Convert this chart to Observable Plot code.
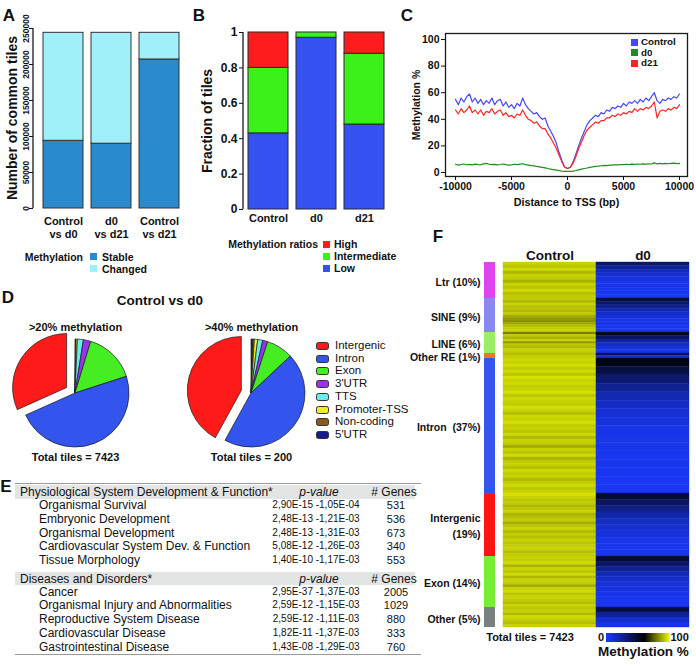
<!DOCTYPE html>
<html>
<head>
<meta charset="utf-8">
<script src="https://cdn.jsdelivr.net/npm/d3@7"></script>
<script src="https://cdn.jsdelivr.net/npm/@observablehq/plot@0.6"></script>
<style>
  html, body { margin: 0; padding: 0; background: #ffffff; }
  #fig { position: relative; width: 696px; height: 667px; overflow: hidden; background: #fff;
         font-family: "Liberation Sans", Arial, Helvetica, sans-serif; color: #111; }
  #fig svg { overflow: visible; }
</style>
</head>
<body>
<div id="fig"></div>
<script>
// ================= DATA =================
// --- Panel A
const aComparisons = ["Control\nvs d0", "d0\nvs d21", "Control\nvs d21"];
const aStatus = ["Stable", "Changed"];
const aStable = [94000, 90000, 207000];
const aChanged = [150000, 154000, 37000];
const aTicks = [0, 50000, 100000, 150000, 200000, 250000];
const aColors = ["#2b89cd", "#a0f0fa"];

// --- Panel B
const bSamples = ["Control", "d0", "d21"];
const bRatios = ["Low", "Intermediate", "High"];
const bLow = [0.43, 0.97, 0.48];
const bIntermediate = [0.37, 0.03, 0.40];
const bHigh = [0.20, 0.00, 0.12];
const bTicks = [0, 0.2, 0.4, 0.6, 0.8, 1];
const bColors = ["#3452f2", "#3cf01a", "#ff1c1c"];
const bLegendOrder = ["High", "Intermediate", "Low"];

// --- Panel C
const cSeries = ["Control", "d0", "d21"];
const cColors = ["#4646ff", "#1e8c1e", "#ff2424"];
const cXTicks = [-10000, -5000, 0, 5000, 10000];
const cYTicks = [0, 20, 40, 60, 80, 100];
const cDistance = [-10000,-9750,-9500,-9250,-9000,-8750,-8500,-8250,-8000,-7750,-7500,-7250,-7000,-6750,-6500,-6250,-6000,-5750,-5500,-5250,-5000,-4750,-4500,-4250,-4000,-3750,-3500,-3250,-3000,-2750,-2500,-2250,-2000,-1750,-1500,-1250,-1000,-750,-500,-250,0,250,500,750,1000,1250,1500,1750,2000,2250,2500,2750,3000,3250,3500,3750,4000,4250,4500,4750,5000,5250,5500,5750,6000,6250,6500,6750,7000,7250,7500,7750,8000,8250,8500,8750,9000,9250,9500,9750,10000];
const cControl = [55,51,56,53,57,59,53,56,52,55, 51,54,52,56,51,54,55,50,53,49, 51,48,52,50,56,51,48,46,44,45, 42,40,41,35,31,27,22,15,9,4, 3,4,8,14,20,26,31,36,39,41, 43,42,45,44,47,46,49,48,50,49, 52,50,53,52,54,52,55,53,56,54, 57,60,54,52,55,54,56,55,57,56, 59];
const cD0 = [6.2,5.6,6.0,6.4,5.8,6.1,5.7,6.3,6.0,5.8, 6.5,6.9,6.2,5.9,6.1,5.7,6.0,6.4,5.9,5.6, 5.8,6.2,5.9,6.3,6.6,5.9,5.6,5.2,5.0,4.6, 4.3,3.9,3.5,3.0,2.6,2.1,1.8,1.4,1.1,0.9, 0.8,0.9,1.1,1.5,2.0,2.5,3.0,3.4,3.9,4.2, 4.6,4.8,5.1,5.3,5.2,5.6,5.5,5.8,5.7,6.0, 5.9,6.2,6.0,6.3,6.1,6.4,6.2,6.5,6.3,6.6, 6.4,7.2,6.5,6.8,6.5,6.9,6.6,6.8,7.0,6.7, 6.9];
const cD21 = [47,44,48,45,47,50,45,47,44,47, 43,46,45,48,44,46,47,43,45,42, 43,41,44,43,47,43,40,39,37,38, 35,33,33,29,26,22,18,13,8,4, 3,4,7,12,18,23,28,32,34,36, 38,37,39,39,41,41,43,42,44,43, 45,44,46,45,48,46,48,47,49,48, 50,53,41,46,47,46,48,47,49,48, 51];

// --- Panel D
const dRegions = ["Intergenic", "Intron", "Exon", "3'UTR", "TTS", "Promoter-TSS", "Non-coding", "5'UTR"];
const dColors = ["#ff1a1a", "#3355ee", "#44ee22", "#9933ee", "#66eeee", "#eeee22", "#8a5a1a", "#1a1a8a"];
const dPies = [">20% methylation", ">40% methylation"];
const dTotals = [7423, 200];
const dTiles20 = [2353, 3585, 1136, 163, 134, 30, 11, 11];
const dTiles40 = [84, 90, 16, 3, 3, 2, 1, 1];

// --- Panel E
const eSection1 = "Physiological System Development & Function*";
const eFunctions = ["Organismal Survival", "Embryonic Development", "Organismal Development", "Cardiovascular System Dev. & Function", "Tissue Morphology"];
const ePvalues1 = ["2,90E-15 -1,05E-04", "2,48E-13 -1,21E-03", "2,48E-13 -1,31E-03", "5,08E-12 -1,26E-03", "1,40E-10 -1,17E-03"];
const eGenes1 = [531, 536, 673, 340, 553];
const eSection2 = "Diseases and Disorders*";
const eDiseases = ["Cancer", "Organismal Injury and Abnormalities", "Reproductive System Disease", "Cardiovascular Disease", "Gastrointestinal Disease"];
const ePvalues2 = ["2,95E-37 -1,37E-03", "2,59E-12 -1,15E-03", "2,59E-12 -1,11E-03", "1,82E-11 -1,37E-03", "1,43E-08 -1,29E-03"];
const eGenes2 = [2005, 1029, 880, 333, 760];

// --- Panel F
const fSegments = ["Ltr", "SINE", "LINE", "Other RE", "Intron", "Intergenic", "Exon", "Other"];
const fLabels = ["Ltr (10%)", "SINE (9%)", "LINE (6%)", "Other RE (1%)", "Intron  (37%)", "Intergenic\n(19%)", "Exon (14%)", "Other (5%)"];
const fTiles = [732, 692, 427, 102, 2746, 1281, 1037, 406];
const fSegColors = ["#dd44ee", "#8888ee", "#99ee66", "#ee7722", "#3355ee", "#ff1414", "#77ee33", "#788080"];
const fColumns = ["Control", "d0"];
const fControlRows = [
  [93,91,94,89,93,92,88,93,91,94,90,92],
  [92,88,93,90,91,89,92,87,84,83,86,90,92,93],
  [80,92,88,93,84,91,89,93,92],
  [90,92],
  [94,93,95,92,94,91,95,93,94,92,93,95,91,94,93,92,95,93,90,94,93,95,92,93,91,94,89,93,92,87,93,91,94,88,92,93,90,94,92,93,89,92,94,91,93],
  [95,93,91,92,89,91,93,88,90,92,87,91,93,89,92,90,93,91,92,93,90,92],
  [93,92,94,88,93,91,94,89,93,92,87,93,94,91,93,92,90,93],
  [91,93,89,94,92,90,93]
];
const fD0Rows = [
  [35,24,16,11,8,6,5,4,4,3],
  [45,36,27,19,13,9,6,5,4,3],
  [52,38,24,14,8,5],
  [40,12],
  [55,44,34,26,19,14,10,8,6,5,5,4,4,3,3,3],
  [48,38,29,21,15,11,8,6,5,4],
  [48,36,26,18,13,9,7,5,4,3],
  [45,25,12,6]
];
const fScaleDomain = [0, 60, 100];
const fScaleColors = ["#1a3aff", "#000000", "#f2ff00"];

// ================= HELPERS =================
const FONT = '"Liberation Sans", Arial, Helvetica, sans-serif';
const fig = document.getElementById("fig");
const baseStyle = {fontFamily: FONT, background: "transparent", overflow: "visible", color: "#111"};

function place(node, left, top) {
  node.style.position = "absolute";
  node.style.left = left + "px";
  node.style.top = top + "px";
  fig.appendChild(node);
  return node;
}
function txt(s, x, y, {size = 11, bold = true, anchor = "start", italic = false, color = "#111", rotate = 0} = {}) {
  const d = document.createElement("div");
  d.textContent = s;
  const tx = anchor === "middle" ? "-50%" : anchor === "end" ? "-100%" : "0";
  d.style.cssText = `position:absolute;left:${x}px;top:${y}px;font-size:${size}px;font-weight:${bold ? "bold" : "normal"};font-style:${italic ? "italic" : "normal"};white-space:pre;line-height:1;color:${color};transform:translate(${tx},-50%)${rotate ? ` rotate(${rotate}deg)` : ""};transform-origin:${rotate ? "0 0" : "50% 50%"};`;
  if (rotate) {
    d.style.transformOrigin = "center center";
    d.style.transform = `translate(-50%,-50%) rotate(${rotate}deg)`;
  }
  fig.appendChild(d);
  return d;
}
function box(x, y, w, h, fill, border, radius) {
  const d = document.createElement("div");
  d.style.cssText = `position:absolute;left:${x}px;top:${y}px;width:${w}px;height:${h}px;background:${fill};box-sizing:border-box;` +
    (border ? `border:${border};` : "") + (radius ? `border-radius:${radius}px;` : "");
  fig.appendChild(d);
  return d;
}
function leftLine(v0, v1) {
  return (index, scales, values, dims) => {
    const l = document.createElementNS("http://www.w3.org/2000/svg", "line");
    const x = dims.marginLeft;
    l.setAttribute("x1", x); l.setAttribute("x2", x);
    l.setAttribute("y1", scales.y(v0)); l.setAttribute("y2", scales.y(v1));
    l.setAttribute("stroke", "#1a1a1a"); l.setAttribute("stroke-width", 1.3);
    return l;
  };
}

// ================= PANEL A =================
const aData = aComparisons.flatMap((c, i) => [
  {c, s: "Stable", v: aStable[i]},
  {c, s: "Changed", v: aChanged[i]}
]);
const plotA = Plot.plot({
  width: 195, height: 245, marginLeft: 33, marginRight: 7, marginTop: 28, marginBottom: 37,
  style: baseStyle,
  x: {domain: aComparisons, paddingInner: 0.175, paddingOuter: 0.185},
  y: {domain: [0, 250000]},
  color: {domain: aStatus, range: aColors},
  marks: [
    Plot.barY(aData, {x: "c", y: "v", fill: "s", stroke: "#333", strokeWidth: 1}),
    Plot.axisX({tickSize: 0, tickPadding: 8, fontSize: 11, fontWeight: "bold", lineHeight: 1.15, label: null}),
    Plot.axisY({ticks: aTicks, tickFormat: d => String(d), tickRotate: -90, tickSize: 4, tickPadding: 1, fontSize: 8.5, fontWeight: "bold", label: null}),
    leftLine(0, 250000)
  ]
});
place(plotA, 0, 0);
txt("Number of common tiles", 12, 118, {size: 14, rotate: -90});

// ================= PANEL B =================
const bData = bSamples.flatMap((s, i) => [
  {s, r: "Low", v: bLow[i]},
  {s, r: "Intermediate", v: bIntermediate[i]},
  {s, r: "High", v: bHigh[i]}
]);
const plotB = Plot.plot({
  width: 200, height: 235, marginLeft: 53, marginRight: 1, marginTop: 32, marginBottom: 26,
  style: baseStyle,
  x: {domain: bSamples, paddingInner: 0.1667, paddingOuter: 0.104},
  y: {domain: [0, 1]},
  color: {domain: bRatios, range: bColors},
  marks: [
    Plot.barY(bData, {x: "s", y: "v", fill: "r", stroke: "#2a2a2a", strokeWidth: 1}),
    Plot.axisX({tickSize: 0, tickPadding: 4.5, fontSize: 11, fontWeight: "bold", label: null}),
    Plot.axisY({ticks: bTicks, tickFormat: d => String(d), tickSize: 4, tickPadding: 2, fontSize: 12, fontWeight: "bold", label: null}),
    leftLine(0, 1)
  ]
});
place(plotB, 190, 0);
txt("Fraction of tiles", 207, 121, {size: 14, rotate: -90});

// ================= PANEL C =================
const cValues = [cControl, cD0, cD21];
const cData = cSeries.flatMap((s, k) => cDistance.map((d, i) => ({s, d, v: cValues[k][i]})));
const plotC = Plot.plot({
  width: 296, height: 215, marginLeft: 45, marginRight: 9, marginTop: 33, marginBottom: 39,
  style: baseStyle,
  x: {domain: [-10893, 10714]},
  y: {domain: [-3, 104.5]},
  color: {domain: cSeries, range: cColors},
  marks: [
    Plot.line(cData, {x: "d", y: "v", z: "s", stroke: "s", strokeWidth: 1.2}),
    Plot.frame({stroke: "#1a1a1a", strokeWidth: 1.3}),
    Plot.axisX({ticks: cXTicks, tickFormat: d => String(d), tickSize: 4, tickPadding: 2, fontSize: 10.5, fontWeight: "bold", label: null}),
    Plot.axisY({ticks: cYTicks, tickFormat: d => String(d), tickSize: 4, tickPadding: 2, fontSize: 10.5, fontWeight: "bold", label: null}),
    Plot.text(["Distance to TSS (bp)"], {text: d => d, frameAnchor: "bottom", dy: 29, fontSize: 10.8, fontWeight: "bold"})
  ]
});
place(plotC, 400, 0);
txt("Methylation %", 416, 105, {size: 10.5, rotate: -90});

// ================= PANEL D =================
const dSliceOrder = dRegions.slice().reverse();
const dTiles = [dTiles20, dTiles40];
function pieSlices(index, scales, values, dims) {
  const color = d3.scaleOrdinal(dRegions, dColors);
  const cy = dims.marginTop + (dims.height - dims.marginTop - dims.marginBottom) / 2;
  const root = d3.create("svg:g");
  dPies.forEach((name, k) => {
    const items = dSliceOrder.map(r => ({region: r, n: dTiles[k][dRegions.indexOf(r)]}));
    const arcs = d3.pie().sort(null).value(d => d.n)(items);
    const arc = d3.arc().innerRadius(0).outerRadius(54);
    const g = root.append("g").attr("transform", `translate(${scales.x(name)},${cy})`);
    g.selectAll("path").data(arcs).join("path")
      .attr("d", arc)
      .attr("fill", d => color(d.data.region))
      .attr("stroke", "#1a1a1a").attr("stroke-width", 0.7)
      .attr("transform", d => {
        if (d.data.region !== "Intergenic") return null;
        const m = (d.startAngle + d.endAngle) / 2;
        return `translate(${10 * Math.sin(m)},${-10 * Math.cos(m)})`;
      });
  });
  return root.node();
}
const plotD = Plot.plot({
  width: 310, height: 170, marginLeft: 75, marginRight: 59, marginTop: 30, marginBottom: 14,
  style: baseStyle,
  x: {type: "point", domain: dPies, padding: 0, axis: null},
  marks: [
    pieSlices,
    Plot.text(dPies, {x: d => d, text: d => d, frameAnchor: "top", dy: -7, fontSize: 11, fontWeight: "bold"}),
    Plot.text(dPies, {x: d => d, text: (d, i) => "Total tiles = " + dTotals[i], frameAnchor: "bottom", dy: 4, fontSize: 11, fontWeight: "bold"})
  ]
});
place(plotD, 0, 300);
txt("Control vs d0", 160, 301, {size: 13.5, anchor: "middle"});
dRegions.forEach((r, i) => {
  const yc = 346 + i * 12.7;
  box(316, yc - 4, 13, 8, dColors[i], "1px solid #333", 2.5);
  txt(r, 335, yc, {size: 11.5, bold: false});
});

// ================= PANEL E =================
box(15, 482.5, 406, 1.6, "#9a9a9a");
box(15, 485, 400, 13.5, "#e3e5e5");
txt(eSection1, 20, 491.8, {size: 12, bold: false});
txt("p-value", 319, 491.8, {size: 12, bold: false, italic: true, anchor: "middle"});
txt("# Genes", 394, 491.8, {size: 12, bold: false, anchor: "middle"});
eFunctions.forEach((name, i) => {
  const y = 505 + i * 13.75;
  txt(name, 39, y, {size: 12, bold: false});
  txt(ePvalues1[i], 316, y, {size: 10, bold: false, anchor: "middle"});
  txt(String(eGenes1[i]), 396, y, {size: 11, bold: false, anchor: "middle"});
});
box(15, 572, 400, 13, "#e3e5e5");
txt(eSection2, 20, 578.5, {size: 12, bold: false});
txt("p-value", 319, 578.5, {size: 12, bold: false, italic: true, anchor: "middle"});
txt("# Genes", 394, 578.5, {size: 12, bold: false, anchor: "middle"});
eDiseases.forEach((name, i) => {
  const y = 591.5 + i * 13.9;
  txt(name, 39, y, {size: 12, bold: false});
  txt(ePvalues2[i], 316, y, {size: 10, bold: false, anchor: "middle"});
  txt(String(eGenes2[i]), 396, y, {size: 11, bold: false, anchor: "middle"});
});
box(15, 653.5, 406, 1.6, "#9a9a9a");

// ================= PANEL F =================
const fStarts = [];
let fAcc = 0;
fTiles.forEach(t => { fStarts.push(fAcc); fAcc += t; });
const fTotal = fAcc;
const fSegRows = fSegments.map((s, i) => ({
  seg: s, label: fLabels[i], y1: fStarts[i], y2: fStarts[i] + fTiles[i], mid: fStarts[i] + fTiles[i] / 2
}));
const plotF1 = Plot.plot({
  width: 100, height: 400, marginLeft: 89, marginRight: 0, marginTop: 22, marginBottom: 13,
  style: baseStyle,
  x: {domain: ["type"], padding: 0, axis: null},
  y: {domain: [0, fTotal], reverse: true, axis: null},
  color: {domain: fSegments, range: fSegColors},
  marks: [
    Plot.barY(fSegRows, {x: () => "type", y1: "y1", y2: "y2", fill: "seg"}),
    Plot.text(fSegRows, {y: "mid", text: "label", frameAnchor: "left", textAnchor: "end", dx: -4, fontSize: 10.5, fontWeight: "bold", lineHeight: 1.5})
  ]
});
place(plotF1, 395, 240);

const fCells = [];
fSegments.forEach((seg, s) => {
  [["Control", fControlRows[s]], ["d0", fD0Rows[s]]].forEach(([col, vals]) => {
    vals.forEach((v, i) => fCells.push({
      col, v,
      y1: fStarts[s] + fTiles[s] * i / vals.length,
      y2: fStarts[s] + fTiles[s] * (i + 1) / vals.length
    }));
  });
});
const plotF2 = Plot.plot({
  width: 196, height: 400, marginLeft: 3, marginRight: 7, marginTop: 22, marginBottom: 13,
  style: baseStyle,
  x: {domain: fColumns, padding: 0},
  y: {domain: [0, fTotal], reverse: true, axis: null},
  color: {type: "linear", domain: fScaleDomain, range: fScaleColors},
  marks: [
    Plot.barY(fCells, {x: "col", y1: "y1", y2: "y2", fill: "v", stroke: "v", strokeWidth: 0.4}),
    Plot.axisX({anchor: "top", tickSize: 0, tickPadding: 3, fontSize: 13.5, fontWeight: "bold", label: null})
  ]
});
place(plotF2, 500, 240);
txt("Total tiles = " + fTotal, 530, 637, {size: 11, anchor: "middle"});
txt("0", 601, 637, {size: 11, anchor: "middle"});
const gradStops = fScaleDomain.map((d, i) => `${fScaleColors[i]} ${d}%`).join(",");
box(606, 633, 64, 9, `linear-gradient(to right, ${gradStops})`);
txt("100", 670.5, 637, {size: 11});
txt("Methylation %", 643.5, 652, {size: 13.5, anchor: "middle"});

// ================= LEGENDS A, B, C =================
txt("Methylation", 83, 257, {size: 10.5, anchor: "end"});
aStatus.forEach((s, i) => {
  box(90, 253 + i * 12, 7, 7, aColors[i]);
  txt(s, 102, 256.5 + i * 12, {size: 10.5});
});
txt("Methylation ratios", 318, 244, {size: 10.5, anchor: "end"});
bLegendOrder.forEach((r, i) => {
  box(323, 240.5 + i * 12, 7, 7, bColors[bRatios.indexOf(r)]);
  txt(r, 334, 244 + i * 12, {size: 10.5});
});
cSeries.forEach((s, i) => {
  box(631, 38.5 + i * 10.5, 7, 7, cColors[i]);
  txt(s, 641, 42 + i * 10.5, {size: 9.8});
});

// ================= PANEL LETTERS =================
[["A", 9, 15], ["B", 199, 15], ["C", 407, 15], ["D", 8, 297], ["E", 6, 486], ["F", 438, 236]]
  .forEach(([l, x, y]) => txt(l, x, y, {size: 17, anchor: "middle"}));
</script>
</body>
</html>
